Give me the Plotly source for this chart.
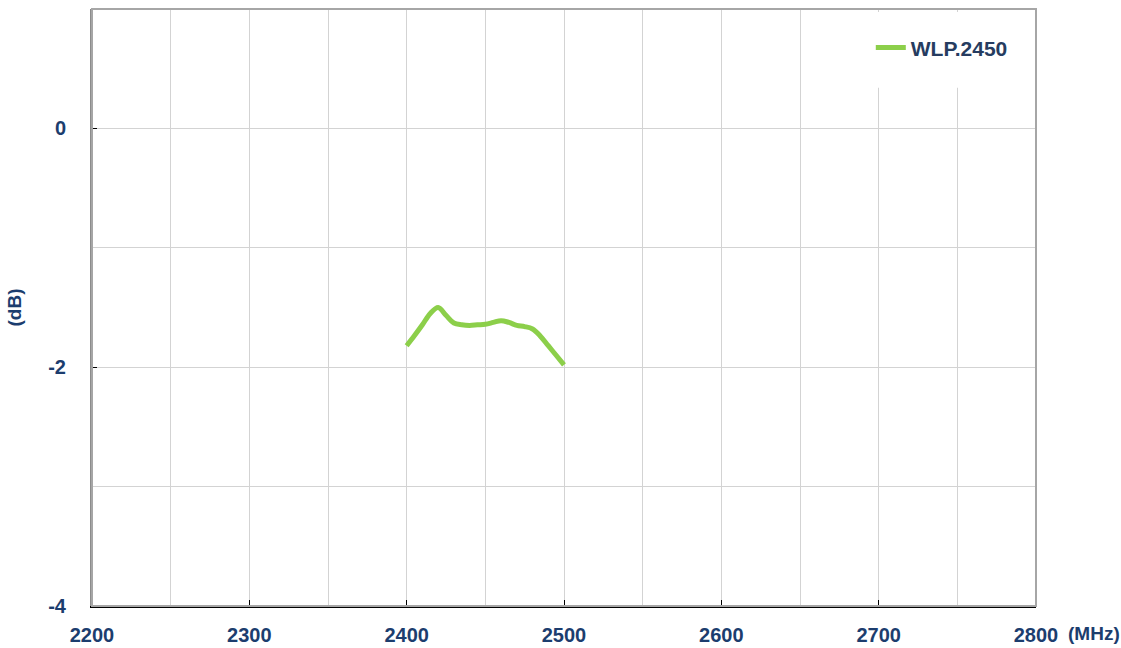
import plotly.graph_objects as go

freq_mhz = [2400, 2405, 2410, 2415, 2420, 2425, 2430, 2435, 2440, 2445, 2450,
            2455, 2460, 2465, 2470, 2475, 2480, 2485, 2490, 2495, 2500]
gain_db = [-1.82, -1.735, -1.645, -1.55, -1.50, -1.565, -1.63, -1.645, -1.65, -1.645, -1.64,
           -1.625, -1.61, -1.625, -1.65, -1.66, -1.68, -1.74, -1.82, -1.90, -1.98]
series_name = "WLP.2450"
x_ticks = [2200, 2300, 2400, 2500, 2600, 2700, 2800]
y_ticks = [-4, -2, 0]
y_ticktext = ["-4", "-2", "0"]

FONT = "Liberation Sans Narrow, Arial Narrow, Liberation Sans, Arial, sans-serif"
NAVY = "#1c3d6e"

fig = go.Figure()
fig.add_trace(go.Scatter(
    x=freq_mhz, y=gain_db, mode="lines", name=series_name,
    line=dict(color="#8ccf4a", width=5, shape="spline", smoothing=1.0),
))

fig.update_layout(
    width=1121, height=648,
    margin=dict(l=92, r=85, t=9, b=42, autoexpand=False),
    paper_bgcolor="white", plot_bgcolor="white",
    showlegend=True,
    legend=dict(
        x=0.825, y=0.935, xanchor="left", yanchor="middle",
        bgcolor="rgba(0,0,0,0)", borderwidth=0,
        font=dict(family=FONT, size=21, color="#263c60", weight="bold"),
        itemwidth=30,
    ),
    xaxis=dict(
        range=[2200, 2800], tickvals=x_ticks,
        showgrid=True, gridcolor="#d3d3d3", gridwidth=1,
        minor=dict(dtick=50, showgrid=True, gridcolor="#d3d3d3", gridwidth=1),
        ticks="inside", ticklen=6, tickcolor="black", tickwidth=1,
        showline=True, linecolor="black", linewidth=1.5,
        ticklabelstandoff=10,
        tickfont=dict(family=FONT, size=20, color=NAVY, weight="bold"),
        zeroline=False,
    ),
    yaxis=dict(
        range=[-4, 1], tickvals=y_ticks, ticktext=y_ticktext,
        showgrid=True, gridcolor="#d3d3d3", gridwidth=1,
        minor=dict(dtick=1, showgrid=True, gridcolor="#d3d3d3", gridwidth=1),
        ticks="inside", ticklen=5, tickcolor="black", tickwidth=1,
        showline=True, linecolor="#8c8c8c", linewidth=2,
        ticklabelstandoff=20,
        tickfont=dict(family=FONT, size=20, color=NAVY, weight="bold"),
        zeroline=False,
        title=dict(text="(dB)", standoff=22,
                   font=dict(family=FONT, size=19, color=NAVY, weight="bold")),
    ),
    shapes=[
        dict(type="rect", xref="paper", yref="paper", x0=0, x1=1, y0=0, y1=1,
             line=dict(color="#a6a6a6", width=2), fillcolor="rgba(0,0,0,0)", layer="above"),
        dict(type="rect", xref="x", yref="y", x0=2690, x1=2797, y0=0.34, y1=0.975,
             line=dict(width=0), fillcolor="white", layer="between"),
    ],
    annotations=[
        dict(text="(MHz)", xref="paper", yref="paper", x=1 + 30 / 944, y=-27 / 597,
             xanchor="left", yanchor="middle", showarrow=False,
             font=dict(family=FONT, size=19, color=NAVY, weight="bold")),
    ],
)

fig.write_html("out.html", config={"displayModeBar": False},
               post_script="document.body.style.margin='0';document.body.style.overflow='hidden';")
